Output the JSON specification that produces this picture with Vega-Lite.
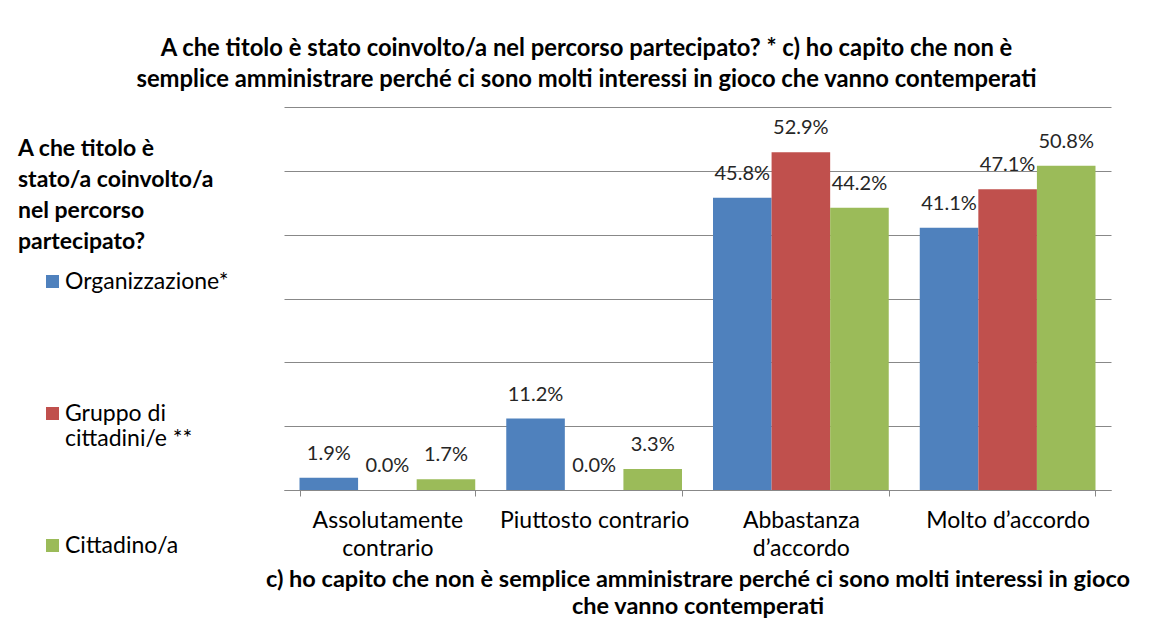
{
  "$schema": "https://vega.github.io/schema/vega-lite/v6.json",
  "width": 827,
  "height": 383,
  "autosize": {"type": "none"},
  "padding": {"left": 284, "top": 107, "right": 40, "bottom": 131},
  "background": "white",
  "config": {"view": {"stroke": null}, "font": "Lato"},
  "title": {
    "text": ["A che titolo è stato coinvolto/a nel percorso partecipato? * c) ho capito che non è", "semplice amministrare perché ci sono molti interessi in gioco che vanno contemperati"],
    "fontSize": 23.8,
    "fontWeight": "bold",
    "color": "black",
    "lineHeight": 31,
    "anchor": "middle",
    "frame": "group",
    "dx": -111,
    "offset": 15
  },
  "data": {
    "values": [
      {"cat": "Assolutamente contrario", "group": "Organizzazione*", "value": 0.019},
      {"cat": "Assolutamente contrario", "group": "Gruppo di cittadini/e **", "value": 0.0},
      {"cat": "Assolutamente contrario", "group": "Cittadino/a", "value": 0.017},
      {"cat": "Piuttosto contrario", "group": "Organizzazione*", "value": 0.112},
      {"cat": "Piuttosto contrario", "group": "Gruppo di cittadini/e **", "value": 0.0},
      {"cat": "Piuttosto contrario", "group": "Cittadino/a", "value": 0.033},
      {"cat": "Abbastanza d’accordo", "group": "Organizzazione*", "value": 0.458},
      {"cat": "Abbastanza d’accordo", "group": "Gruppo di cittadini/e **", "value": 0.529},
      {"cat": "Abbastanza d’accordo", "group": "Cittadino/a", "value": 0.442},
      {"cat": "Molto d’accordo", "group": "Organizzazione*", "value": 0.411},
      {"cat": "Molto d’accordo", "group": "Gruppo di cittadini/e **", "value": 0.471},
      {"cat": "Molto d’accordo", "group": "Cittadino/a", "value": 0.508}
    ]
  },
  "encoding": {
    "x": {
      "field": "cat",
      "type": "nominal",
      "sort": ["Assolutamente contrario", "Piuttosto contrario", "Abbastanza d’accordo", "Molto d’accordo"],
      "scale": {"paddingInner": 0.15, "paddingOuter": 0.075},
      "axis": {
        "title": ["c) ho capito che non è semplice amministrare perché ci sono molti interessi in gioco", "che vanno contemperati"],
        "titleFontSize": 23.5,
        "titleFontWeight": "bold",
        "titleColor": "black",
        "titleLineHeight": 27,
        "titlePadding": 7,
        "labelAngle": 0,
        "labelFontSize": 23,
        "labelColor": "black",
        "labelLineHeight": 28,
        "labelPadding": 13,
        "labelLimit": 300,
        "labelExpr": "datum.label == 'Assolutamente contrario' ? ['Assolutamente', 'contrario'] : datum.label == 'Abbastanza d’accordo' ? ['Abbastanza', 'd’accordo'] : datum.label",
        "tickBand": "extent",
        "tickSize": 6,
        "tickColor": "#888888",
        "domainColor": "#888888",
        "grid": false
      }
    },
    "xOffset": {
      "field": "group",
      "type": "nominal",
      "sort": ["Organizzazione*", "Gruppo di cittadini/e **", "Cittadino/a"],
      "scale": {"paddingInner": 0, "paddingOuter": 0}
    },
    "y": {
      "field": "value",
      "type": "quantitative",
      "scale": {"domain": [0, 0.6]},
      "axis": {
        "title": null,
        "labels": false,
        "ticks": false,
        "domain": false,
        "grid": true,
        "gridColor": "#888888",
        "values": [0, 0.1, 0.2, 0.3, 0.4, 0.5, 0.6]
      }
    }
  },
  "layer": [
    {
      "mark": {"type": "bar"},
      "encoding": {
        "color": {
          "field": "group",
          "type": "nominal",
          "sort": ["Organizzazione*", "Gruppo di cittadini/e **", "Cittadino/a"],
          "scale": {"range": ["#4F81BD", "#C0504D", "#9BBB59"]},
          "legend": {
            "orient": "none",
            "legendX": -266,
            "legendY": 31,
            "title": ["A che titolo è", "stato/a coinvolto/a", "nel percorso", "partecipato?"],
            "titleFontSize": 23,
            "titleFontWeight": "bold",
            "titleColor": "black",
            "titleLineHeight": 31,
            "titlePadding": 16,
            "titleLimit": 400,
            "labelFontSize": 23,
            "labelColor": "black",
            "labelLineHeight": 25,
            "labelLimit": 300,
            "labelExpr": "datum.label == 'Gruppo di cittadini/e **' ? [' Gruppo di', 'cittadini/e **'] : datum.label",
            "symbolType": "square",
            "symbolSize": 169,
            "symbolStrokeWidth": 0,
            "symbolOffset": 23,
            "labelOffset": 1,
            "gridAlign": "all",
            "rowPadding": 83,
            "padding": 0
          }
        }
      }
    },
    {
      "mark": {"type": "text", "dy": -24, "fontSize": 20, "color": "#262626"},
      "encoding": {
        "text": {"field": "value", "type": "quantitative", "format": ".1%"}
      }
    }
  ]
}
